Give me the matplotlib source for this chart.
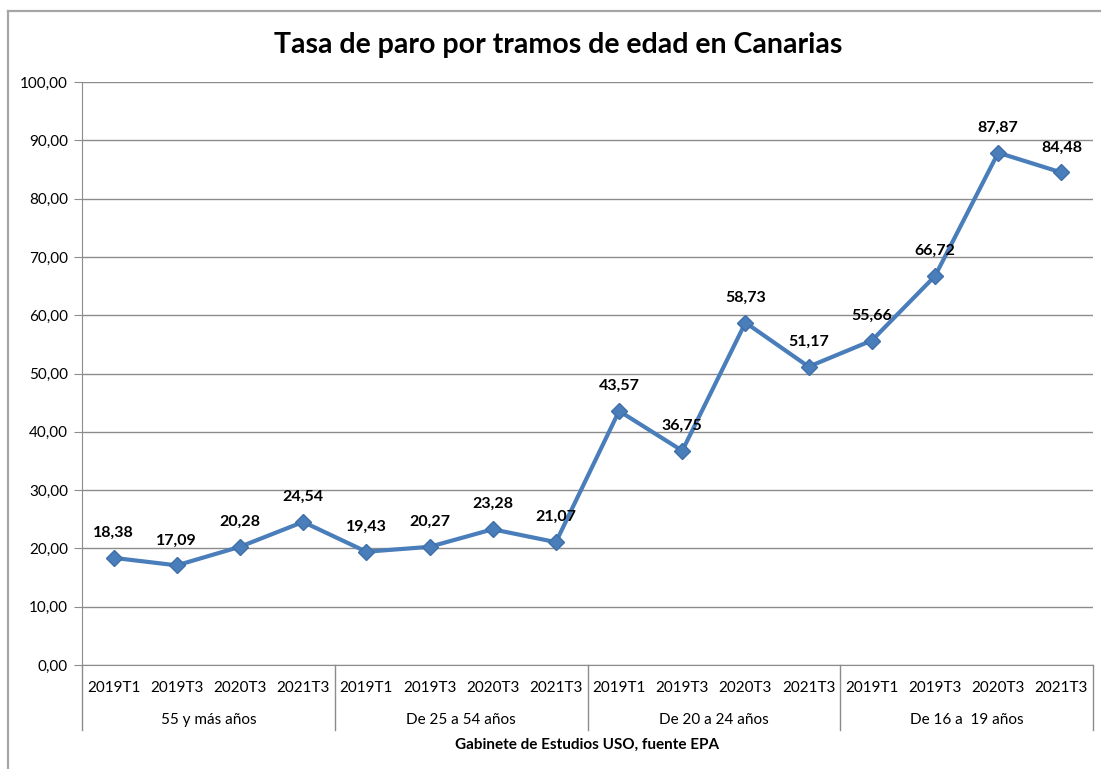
import matplotlib
matplotlib.use("Agg")
import matplotlib.pyplot as plt
from matplotlib.lines import Line2D
from matplotlib.ticker import FuncFormatter

plt.rcParams['font.family'] = ['Lato', 'DejaVu Sans']

TITLE = "Tasa de paro por tramos de edad en Canarias"
FOOTER = "Gabinete de Estudios USO, fuente EPA"
PERIODS = ["2019T1", "2019T3", "2020T3", "2021T3"]
GROUPS = ["55 y más años", "De 25 a 54 años", "De 20 a 24 años", "De 16 a  19 años"]
VALUES = [18.38, 17.09, 20.28, 24.54,
          19.43, 20.27, 23.28, 21.07,
          43.57, 36.75, 58.73, 51.17,
          55.66, 66.72, 87.87, 84.48]

LINE_COLOR = "#4a7ebb"
GRID_COLOR = "#8c8c8c"
W, H = 1101, 769

fig = plt.figure(figsize=(W / 100, H / 100), dpi=100)

# outer chart border (left + top visible)
fig.add_artist(Line2D([8 / W, 8 / W], [0, 1 - 11 / H], color="#a6a6a6", lw=1.6))
fig.add_artist(Line2D([8 / W, 1], [1 - 11 / H, 1 - 11 / H], color="#a6a6a6", lw=1.6))

ax_l, ax_r, ax_t, ax_b = 82, 1093, 82, 665
ax = fig.add_axes([ax_l / W, 1 - ax_b / H, (ax_r - ax_l) / W, (ax_b - ax_t) / H])

n = len(VALUES)
xs = list(range(n))
ax.plot(xs, VALUES, color=LINE_COLOR, lw=3.0, marker="D", markersize=8.5,
        markerfacecolor=LINE_COLOR, markeredgecolor="#3f6fa8", zorder=3)
for x, v in zip(xs, VALUES):
    ax.annotate(f"{v:.2f}".replace(".", ","), (x, v), xytext=(0, 18),
                textcoords="offset points", ha="center", va="center",
                fontsize=11.5, fontweight="bold", color="black")

ax.set_xlim(-0.5, n - 0.5)
ax.set_ylim(0, 100)
ax.set_yticks(range(0, 101, 10))
ax.yaxis.set_major_formatter(FuncFormatter(lambda v, p: f"{v:.2f}".replace(".", ",")))
ax.grid(axis="y", color=GRID_COLOR, lw=1.0)
ax.set_axisbelow(True)
ax.tick_params(axis="y", length=6, color=GRID_COLOR, labelsize=11, pad=4)
ax.set_xticks([])
for s in ("top", "right"):
    ax.spines[s].set_visible(False)
ax.spines["left"].set_color(GRID_COLOR)
ax.spines["bottom"].set_color(GRID_COLOR)

# category axis: periods, groups, separators
axh = ax_b - ax_t
sep_bottom = -(730 - ax_b) / axh
period_y = -(688 - ax_b) / axh
group_y = -(720 - ax_b) / axh
trans = ax.get_xaxis_transform()
for i, x in enumerate(xs):
    ax.text(x, period_y, PERIODS[i % len(PERIODS)], transform=trans,
            ha="center", va="center", fontsize=11)
for g, name in enumerate(GROUPS):
    ax.text(g * 4 + 1.5, group_y, name, transform=trans,
            ha="center", va="center", fontsize=11)
for g in range(len(GROUPS) + 1):
    ax.plot([g * 4 - 0.5] * 2, [0, sep_bottom], transform=trans,
            color=GRID_COLOR, lw=1.0, clip_on=False)

fig.text((ax_l + ax_r) / 2 / W, 1 - 745 / H, FOOTER, ha="center", va="center",
         fontsize=11, fontweight="bold")
fig.text(558 / W, 1 - 45 / H, TITLE, ha="center", va="center",
         fontsize=20.5, fontweight="bold")

fig.savefig("out.png", dpi=100)
